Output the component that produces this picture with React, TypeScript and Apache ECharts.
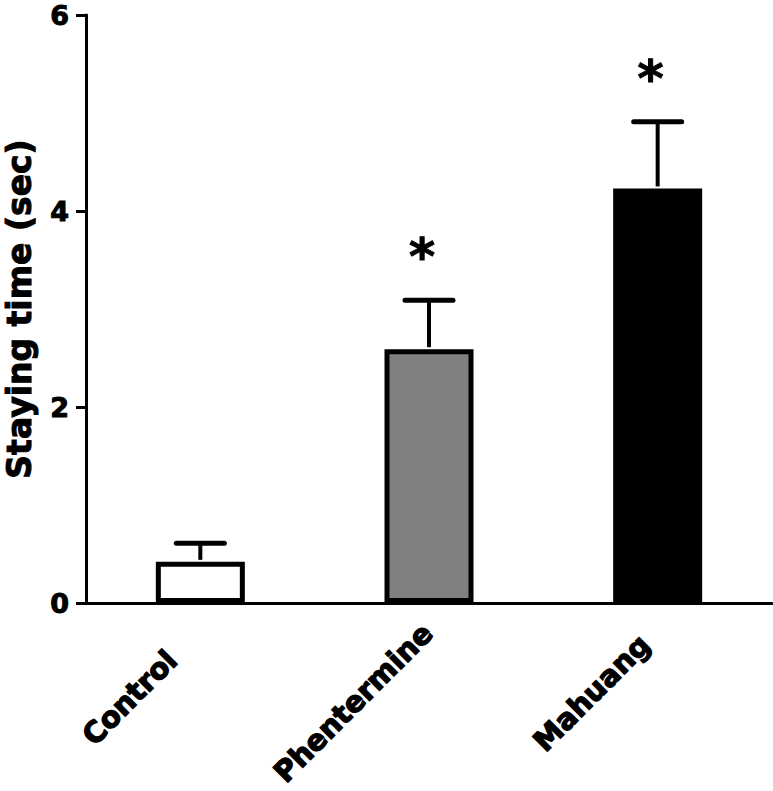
import React, { useEffect, useRef } from "react";
import * as echarts from "echarts";

const categories = ["Control", "Phentermine", "Mahuang"];
const means = [0.42, 2.59, 4.23];
const upperErrors = [0.61, 3.09, 4.91];
const significance = ["", "*", "*"];
const barColors = ["#ffffff", "#808080", "#000000"];
const yTicks = [0, 2, 4, 6];

export default function App() {
  const ref = useRef<HTMLDivElement>(null);
  useEffect(() => {
    if (!ref.current) return;
    const chart = echarts.init(ref.current, null, { renderer: "svg" });
    const font = "DejaVu Sans";
    const labelPad = [40, 2, 18];
    chart.setOption({
      animation: false,
      backgroundColor: "#ffffff",
      grid: { left: 86, right: 1, top: 15, bottom: 188, containLabel: false, outerBoundsMode: "none" },
      xAxis: {
        type: "category",
        data: categories.map((c, i) => ({
          value: c,
          textStyle: { padding: [0, labelPad[i], 0, 0] },
        })),
        axisLine: { lineStyle: { color: "#000", width: 3 } },
        axisTick: { alignWithLabel: true, length: 13, lineStyle: { color: "#000", width: 2 } },
        axisLabel: {
          rotate: 45,
          margin: 24,
          color: "#000",
          fontFamily: font,
          fontWeight: "bold",
          fontSize: 29,
          textBorderColor: "#000",
          textBorderWidth: 1.3,
        },
      },
      yAxis: {
        type: "value",
        min: yTicks[0],
        max: yTicks[yTicks.length - 1],
        interval: 2,
        name: "Staying time (sec)",
        nameLocation: "middle",
        nameGap: 50,
        nameRotate: 90,
        nameTextStyle: {
          color: "#000",
          fontFamily: font,
          fontWeight: "bold",
          fontSize: 33,
          textBorderColor: "#000",
          textBorderWidth: 1,
        },
        splitLine: { show: false },
        axisLine: { show: true, lineStyle: { color: "#000", width: 3 } },
        axisTick: { show: true, length: 10, lineStyle: { color: "#000", width: 3 } },
        axisLabel: {
          margin: 17,
          color: "#000",
          fontFamily: font,
          fontWeight: "bold",
          fontSize: 27,
          textBorderColor: "#000",
          textBorderWidth: 1,
        },
      },
      series: [
        {
          type: "bar",
          barWidth: 89,
          data: means.map((v, i) => ({
            value: v,
            itemStyle: { color: barColors[i], borderColor: "#000", borderWidth: 5 },
          })),
          z: 2,
        },
        {
          type: "custom",
          z: 3,
          data: means.map((m, i) => [i, m, upperErrors[i]]),
          renderItem: (params: any, api: any) => {
            const i = api.value(0);
            const base = api.coord([i, api.value(1)]);
            const top = api.coord([i, api.value(2)]);
            const star = significance[params.dataIndex];
            const children: any[] = [
              {
                type: "line",
                shape: { x1: base[0], y1: base[1] - 2, x2: top[0], y2: top[1] },
                style: { stroke: "#000", lineWidth: 4 },
              },
              {
                type: "line",
                shape: { x1: top[0] - 24, y1: top[1], x2: top[0] + 24, y2: top[1] },
                style: { stroke: "#000", lineWidth: 5, lineCap: "round" },
              },
            ];
            if (star) {
              children.push({
                type: "text",
                x: top[0] - 7,
                y: top[1] - 43,
                style: {
                  text: star,
                  fontFamily: font,
                  fontWeight: "bold",
                  fontSize: 50,
                  fill: "#000",
                  stroke: "#000",
                  lineWidth: 1,
                  align: "center",
                  verticalAlign: "middle",
                },
              });
            }
            return { type: "group", children };
          },
        },
      ],
    });
    return () => chart.dispose();
  }, []);
  return <div ref={ref} style={{ width: 773, height: 791, position: "absolute", left: 0, top: 0 }} />;
}
